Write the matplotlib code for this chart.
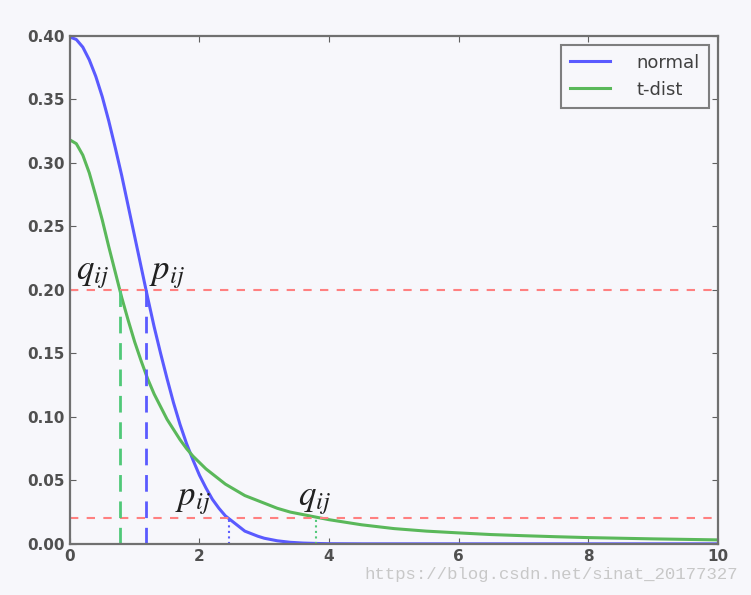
import matplotlib
matplotlib.use('Agg')
import matplotlib.pyplot as plt

# values
x_vals = [0.0, 0.1, 0.2, 0.3, 0.4, 0.5, 0.6, 0.7, 0.8, 0.9, 1.0, 1.1, 1.2, 1.3, 1.4, 1.5,
          1.6, 1.7, 1.8, 1.9, 2.0, 2.1, 2.2, 2.3, 2.4, 2.5, 2.6, 2.7, 2.8, 2.9, 3.0,
          3.2, 3.4, 3.6, 3.8, 4.0, 4.5, 5.0, 5.5, 6.0, 6.5, 7.0, 7.5, 8.0, 8.5, 9.0, 9.5, 10.0]
normal = [0.399, 0.397, 0.391, 0.381, 0.368, 0.352, 0.333, 0.312, 0.290, 0.266, 0.242,
          0.218, 0.194, 0.171, 0.150, 0.130, 0.111, 0.094, 0.079, 0.066, 0.054, 0.044,
          0.035, 0.028, 0.022, 0.018, 0.014, 0.010, 0.008, 0.006, 0.0044,
          0.0024, 0.0012, 0.0006, 0.0003, 0.0001, 0.0, 0.0, 0.0, 0.0, 0.0, 0.0, 0.0,
          0.0, 0.0, 0.0, 0.0, 0.0]
tdist = [0.318, 0.315, 0.306, 0.292, 0.274, 0.255, 0.234, 0.214, 0.194, 0.176, 0.159,
         0.144, 0.130, 0.118, 0.108, 0.098, 0.090, 0.082, 0.075, 0.069, 0.064, 0.059,
         0.055, 0.051, 0.047, 0.044, 0.041, 0.038, 0.036, 0.034, 0.032,
         0.028, 0.025, 0.023, 0.021, 0.019, 0.015, 0.012, 0.010, 0.0086, 0.0073,
         0.0064, 0.0056, 0.0049, 0.0044, 0.0039, 0.0035, 0.0031]

levels = [0.2, 0.02]
p_x = [1.18, 2.45]   # where normal crosses the levels
q_x = [0.77, 3.80]   # where t-dist crosses the levels

bg = '#f7f7fb'
fig = plt.figure(figsize=(7.51, 5.95), dpi=100, facecolor=bg)
ax = fig.add_axes([0.093, 0.086, 0.863, 0.854], facecolor=bg)

blue = '#5a5aff'
green = '#5ab85a'

ax.plot(x_vals, normal, color=blue, lw=2.2, label='normal')
ax.plot(x_vals, tdist, color=green, lw=2.2, label='t-dist')

for y in levels:
    ax.axhline(y, color='#ff8080', ls=(0, (4, 4)), lw=1.5)

ax.plot([p_x[0], p_x[0]], [0, levels[0]], color=blue, ls=(0, (6, 3.5)), lw=2)
ax.plot([q_x[0], q_x[0]], [0, levels[0]], color='#50c878', ls=(0, (6, 3.5)), lw=2)
ax.plot([p_x[1], p_x[1]], [0, levels[1]], color=blue, ls=':', lw=1.5)
ax.plot([q_x[1], q_x[1]], [0, levels[1]], color='#50c878', ls=':', lw=1.5)

plt.rcParams['mathtext.fontset'] = 'stix'
lab_kw = dict(fontsize=25, color='#202020', va='bottom')
ax.text(0.1, 0.199, r'$\mathbf{\mathit{q}}_{ij}$', **lab_kw)
ax.text(1.22, 0.199, r'$\mathbf{\mathit{p}}_{ij}$', **lab_kw)
ax.text(1.63, 0.021, r'$\mathbf{\mathit{p}}_{ij}$', **lab_kw)
ax.text(3.52, 0.021, r'$\mathbf{\mathit{q}}_{ij}$', **lab_kw)

ax.set_xlim(0, 10)
ax.set_ylim(0, 0.40)
ax.set_xticks([0, 2, 4, 6, 8, 10])
ax.set_yticks([0.0, 0.05, 0.10, 0.15, 0.20, 0.25, 0.30, 0.35, 0.40])
ax.set_yticklabels(['0.00', '0.05', '0.10', '0.15', '0.20', '0.25', '0.30', '0.35', '0.40'])
ax.tick_params(direction='in', length=4, colors='#606060', labelcolor='#505050',
               labelsize=11, top=True, right=True)
for lab in ax.get_xticklabels() + ax.get_yticklabels():
    lab.set_fontweight('bold')
for s in ax.spines.values():
    s.set_color('#707070')
    s.set_linewidth(1.6)

leg = ax.legend(loc='upper right', fontsize=13, frameon=True, fancybox=False,
                handlelength=2.2, borderpad=0.5, labelspacing=0.5, handletextpad=1.5)
leg.get_frame().set_edgecolor('#606060')
leg.get_frame().set_linewidth(1.5)
leg.get_frame().set_facecolor(bg)
for t in leg.get_texts():
    t.set_color('#404040')

fig.text(0.983, 0.022, 'https://blog.csdn.net/sinat_20177327', ha='right', va='bottom',
         fontsize=12.5, color='#c8c8c8', family='Liberation Mono')

fig.savefig('out.png', dpi=100, facecolor=bg)
